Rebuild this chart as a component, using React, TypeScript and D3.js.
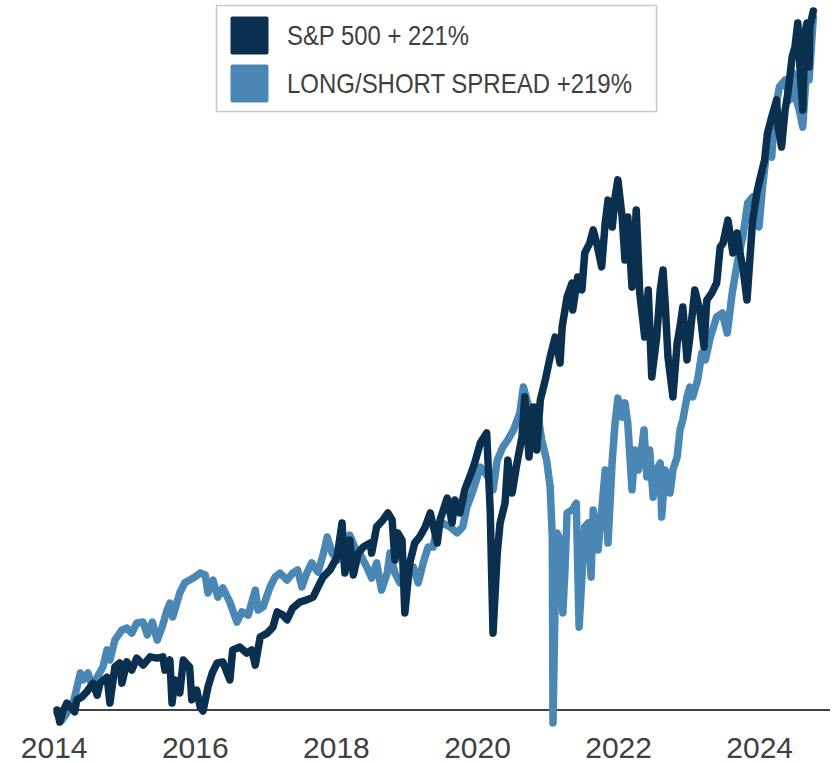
import React from "react";
import * as d3 from "d3";

// cumulative return (%) by decimal year
const sp500: [number, number][] = [
  [2014.04, 0], [2014.08, -3.8], [2014.12, -0.6], [2014.18, 2.2], [2014.29, -0.6], [2014.32, 3.2],
  [2014.39, 4.1], [2014.46, 5.7], [2014.55, 8.5], [2014.61, 4.7], [2014.65, 8.5], [2014.75, 10.4],
  [2014.79, 2.2], [2014.86, 13.6], [2014.93, 14.9], [2014.96, 8.5], [2015.03, 15.2], [2015.1, 12.6],
  [2015.17, 16.4], [2015.26, 14.2], [2015.36, 16.8], [2015.46, 16.4], [2015.54, 16.8], [2015.57, 12.6],
  [2015.64, 15.8], [2015.67, 2.2], [2015.71, 9.5], [2015.78, 5.4], [2015.83, 15.8], [2015.92, 13.6],
  [2015.95, 3.2], [2016.02, 6.3], [2016.07, 0.9], [2016.11, -0.3], [2016.18, 7.3], [2016.24, 11.7],
  [2016.31, 14.9], [2016.39, 15.2], [2016.49, 9.5], [2016.53, 19.0], [2016.63, 19.9], [2016.73, 18.0],
  [2016.8, 19.0], [2016.85, 14.2], [2016.92, 23.1], [2017.02, 24.3], [2017.1, 26.2], [2017.16, 31.0],
  [2017.24, 30.0], [2017.3, 28.5], [2017.38, 32.2], [2017.48, 34.1], [2017.58, 34.8], [2017.67, 35.7],
  [2017.74, 38.9], [2017.81, 42.0], [2017.91, 44.3], [2018.01, 48.4], [2018.08, 59.1], [2018.12, 43.3],
  [2018.19, 53.7], [2018.24, 42.7], [2018.31, 49.6], [2018.38, 51.5], [2018.48, 52.8], [2018.5, 49.6],
  [2018.57, 57.9], [2018.66, 60.1], [2018.73, 62.3], [2018.79, 60.1], [2018.83, 47.4], [2018.87, 56.0],
  [2018.93, 53.7], [2018.97, 30.7], [2019.04, 46.5], [2019.11, 52.8], [2019.18, 54.7], [2019.26, 57.9],
  [2019.33, 62.3], [2019.43, 52.8], [2019.47, 60.1], [2019.57, 67.0], [2019.64, 59.1], [2019.68, 66.4],
  [2019.75, 62.3], [2019.82, 69.6], [2019.89, 73.7], [2019.96, 78.1], [2020.04, 84.4], [2020.13, 87.6],
  [2020.18, 63.2], [2020.22, 24.3], [2020.28, 49.6], [2020.32, 59.1], [2020.39, 65.4], [2020.43, 79.0],
  [2020.49, 68.6], [2020.56, 78.1], [2020.63, 86.3], [2020.67, 99.0], [2020.73, 80.0], [2020.79, 95.8],
  [2020.84, 82.2], [2020.89, 98.0], [2020.96, 104.3], [2021.03, 111.6], [2021.1, 117.9], [2021.17, 109.7],
  [2021.2, 121.1], [2021.27, 130.6], [2021.34, 135.0], [2021.35, 126.5], [2021.42, 136.9], [2021.48, 132.8],
  [2021.52, 144.5], [2021.59, 147.6], [2021.64, 151.8], [2021.69, 147.6], [2021.76, 140.1], [2021.81, 154.0],
  [2021.85, 161.2], [2021.91, 152.7], [2021.95, 162.2], [2021.99, 167.6], [2022.05, 155.9], [2022.09, 142.3],
  [2022.13, 155.9], [2022.19, 133.7], [2022.25, 158.1], [2022.3, 131.8], [2022.37, 117.9], [2022.42, 132.8],
  [2022.47, 105.3], [2022.54, 117.9], [2022.59, 132.8], [2022.63, 139.1], [2022.66, 128.7], [2022.7, 111.6],
  [2022.77, 99.0], [2022.83, 116.0], [2022.87, 121.1], [2022.91, 127.4], [2022.97, 110.7], [2023.01, 117.9],
  [2023.08, 132.8], [2023.15, 126.5], [2023.21, 114.8], [2023.25, 129.6], [2023.32, 131.8], [2023.39, 135.0],
  [2023.44, 146.4], [2023.48, 147.6], [2023.55, 154.9], [2023.62, 144.5], [2023.68, 150.8], [2023.72, 144.5],
  [2023.76, 140.1], [2023.82, 129.6], [2023.86, 142.3], [2023.9, 154.9], [2023.96, 163.5], [2024.0, 167.6],
  [2024.07, 173.9], [2024.11, 182.4], [2024.17, 187.5], [2024.24, 192.9], [2024.26, 184.3], [2024.31, 178.0],
  [2024.36, 189.7], [2024.4, 195.1], [2024.46, 206.5], [2024.5, 209.6], [2024.54, 217.2], [2024.57, 203.3],
  [2024.61, 189.7], [2024.64, 214.0], [2024.67, 217.2], [2024.7, 203.3], [2024.71, 215.9], [2024.76, 221.0],
];

const spread: [number, number][] = [
  [2014.04, -0.9], [2014.11, -3.2], [2014.18, -0.9], [2014.27, 2.2], [2014.37, 11.7], [2014.41, 9.5],
  [2014.48, 11.7], [2014.54, 7.3], [2014.61, 10.4], [2014.69, 13.6], [2014.75, 19.0], [2014.79, 15.8],
  [2014.86, 22.1], [2014.96, 25.3], [2015.03, 25.9], [2015.1, 24.3], [2015.17, 27.5], [2015.26, 27.8],
  [2015.32, 23.7], [2015.39, 27.8], [2015.46, 22.1], [2015.53, 26.2], [2015.6, 31.6], [2015.64, 33.8],
  [2015.68, 29.4], [2015.78, 37.0], [2015.85, 40.2], [2015.92, 41.1], [2015.99, 42.0], [2016.07, 43.3],
  [2016.14, 42.7], [2016.18, 37.0], [2016.25, 41.1], [2016.32, 35.7], [2016.39, 38.6], [2016.49, 34.1],
  [2016.59, 27.8], [2016.66, 31.0], [2016.75, 30.0], [2016.85, 37.9], [2016.89, 31.6], [2016.96, 32.6],
  [2017.06, 38.9], [2017.13, 42.0], [2017.2, 43.3], [2017.3, 41.1], [2017.38, 43.3], [2017.45, 44.3],
  [2017.51, 38.9], [2017.58, 43.3], [2017.65, 46.5], [2017.74, 43.6], [2017.81, 49.0], [2017.87, 54.7],
  [2017.94, 49.6], [2018.02, 47.4], [2018.15, 49.6], [2018.19, 55.3], [2018.26, 51.5], [2018.33, 49.6],
  [2018.43, 45.2], [2018.5, 41.7], [2018.57, 46.5], [2018.64, 37.9], [2018.72, 43.3], [2018.76, 49.6],
  [2018.83, 43.3], [2018.9, 40.2], [2019.0, 42.0], [2019.09, 45.2], [2019.16, 40.2], [2019.23, 46.5],
  [2019.3, 51.5], [2019.37, 51.5], [2019.43, 57.9], [2019.51, 59.1], [2019.61, 57.9], [2019.71, 56.0],
  [2019.79, 57.9], [2019.85, 64.2], [2019.94, 69.6], [2020.04, 76.8], [2020.11, 74.9], [2020.18, 72.7],
  [2020.22, 69.6], [2020.28, 79.0], [2020.36, 83.2], [2020.43, 85.4], [2020.51, 88.5], [2020.6, 93.9],
  [2020.65, 102.1], [2020.74, 94.8], [2020.84, 95.8], [2020.91, 85.4], [2020.98, 79.0], [2021.03, 70.5],
  [2021.06, 54.7], [2021.07, -4.1], [2021.1, 33.8], [2021.13, 56.0], [2021.17, 53.7], [2021.21, 30.7],
  [2021.24, 44.3], [2021.27, 62.3], [2021.34, 63.2], [2021.4, 65.4], [2021.44, 26.2], [2021.48, 42.0],
  [2021.52, 57.9], [2021.57, 59.1], [2021.61, 42.0], [2021.64, 63.2], [2021.71, 50.6], [2021.77, 65.4],
  [2021.81, 75.9], [2021.85, 52.8], [2021.91, 79.0], [2021.95, 90.7], [2021.99, 98.6], [2022.05, 92.6],
  [2022.09, 97.1], [2022.13, 90.7], [2022.19, 69.6], [2022.23, 82.2], [2022.28, 75.9], [2022.33, 83.2],
  [2022.36, 88.5], [2022.4, 73.7], [2022.44, 82.2], [2022.49, 67.3], [2022.54, 75.9], [2022.59, 78.1],
  [2022.61, 61.0], [2022.66, 75.9], [2022.73, 68.6], [2022.77, 75.9], [2022.83, 80.0], [2022.87, 88.5],
  [2022.91, 91.7], [2022.97, 99.0], [2023.01, 102.1], [2023.05, 99.0], [2023.12, 104.3], [2023.18, 112.9],
  [2023.23, 110.7], [2023.3, 117.9], [2023.39, 124.3], [2023.47, 125.5], [2023.54, 119.2], [2023.61, 131.8],
  [2023.69, 142.3], [2023.76, 149.5], [2023.83, 160.3], [2023.9, 162.2], [2023.99, 152.7], [2024.04, 165.3],
  [2024.1, 177.0], [2024.17, 174.8], [2024.21, 188.8], [2024.28, 197.0], [2024.36, 199.2], [2024.43, 192.9],
  [2024.47, 201.4], [2024.52, 192.9], [2024.57, 188.8], [2024.61, 184.3], [2024.66, 201.4], [2024.7, 199.2],
  [2024.76, 219.0],
];

const tickYears = [2014, 2016, 2018, 2020, 2022, 2024];
const legendLabels = ["S&P 500 + 221%", "LONG/SHORT SPREAD +219%"];
const legendTextWidths = [182, 345];

const DARK = "#0b2f4f";
const LIGHT = "#4a87b4";
const TEXT = "#404040";

const App = () => {
  const width = 835;
  const height = 763;

  const x = d3.scaleLinear().domain([2014, 2024]).range([54.2, 759.7]);
  const y = d3.scaleLinear().domain([0, 221]).range([710, 11]);

  const line = d3
    .line<[number, number]>()
    .x((d) => x(d[0]))
    .y((d) => y(d[1]));

  const series = [
    { data: spread, color: LIGHT },
    { data: sp500, color: DARK },
  ];

  return (
    <svg
      width={width}
      height={height}
      style={{ position: "absolute", left: 0, top: 0, background: "#fff" }}
      fontFamily="'Liberation Sans', Arial, sans-serif"
    >
      {/* baseline */}
      <line x1={55} x2={830} y1={y(0)} y2={y(0)} stroke="#444" strokeWidth={2} />

      {/* lines: spread under, S&P on top */}
      {series.map((s, i) => (
        <path
          key={i}
          d={line(s.data) || ""}
          fill="none"
          stroke={s.color}
          strokeWidth={7.5}
          strokeLinejoin="round"
          strokeLinecap="round"
        />
      ))}

      {/* x tick labels */}
      {tickYears.map((yr) => (
        <text key={yr} x={x(yr)} y={758} textAnchor="middle" fontSize={30} fill={TEXT}>
          {yr}
        </text>
      ))}

      {/* legend */}
      <g>
        <rect x={216.5} y={5.5} width={440} height={106} fill="#fff" stroke="#c8c8c8" strokeWidth={1.5} />
        {legendLabels.map((label, i) => (
          <g key={label} transform={`translate(0, ${i * 48})`}>
            <rect x={230.5} y={16.5} width={38} height={38} rx={2} fill={i === 0 ? DARK : LIGHT} />
            <text
              x={287}
              y={45}
              fontSize={28}
              fill={TEXT}
              textLength={legendTextWidths[i]}
              lengthAdjust="spacingAndGlyphs"
            >
              {label}
            </text>
          </g>
        ))}
      </g>
    </svg>
  );
};

export default App;
